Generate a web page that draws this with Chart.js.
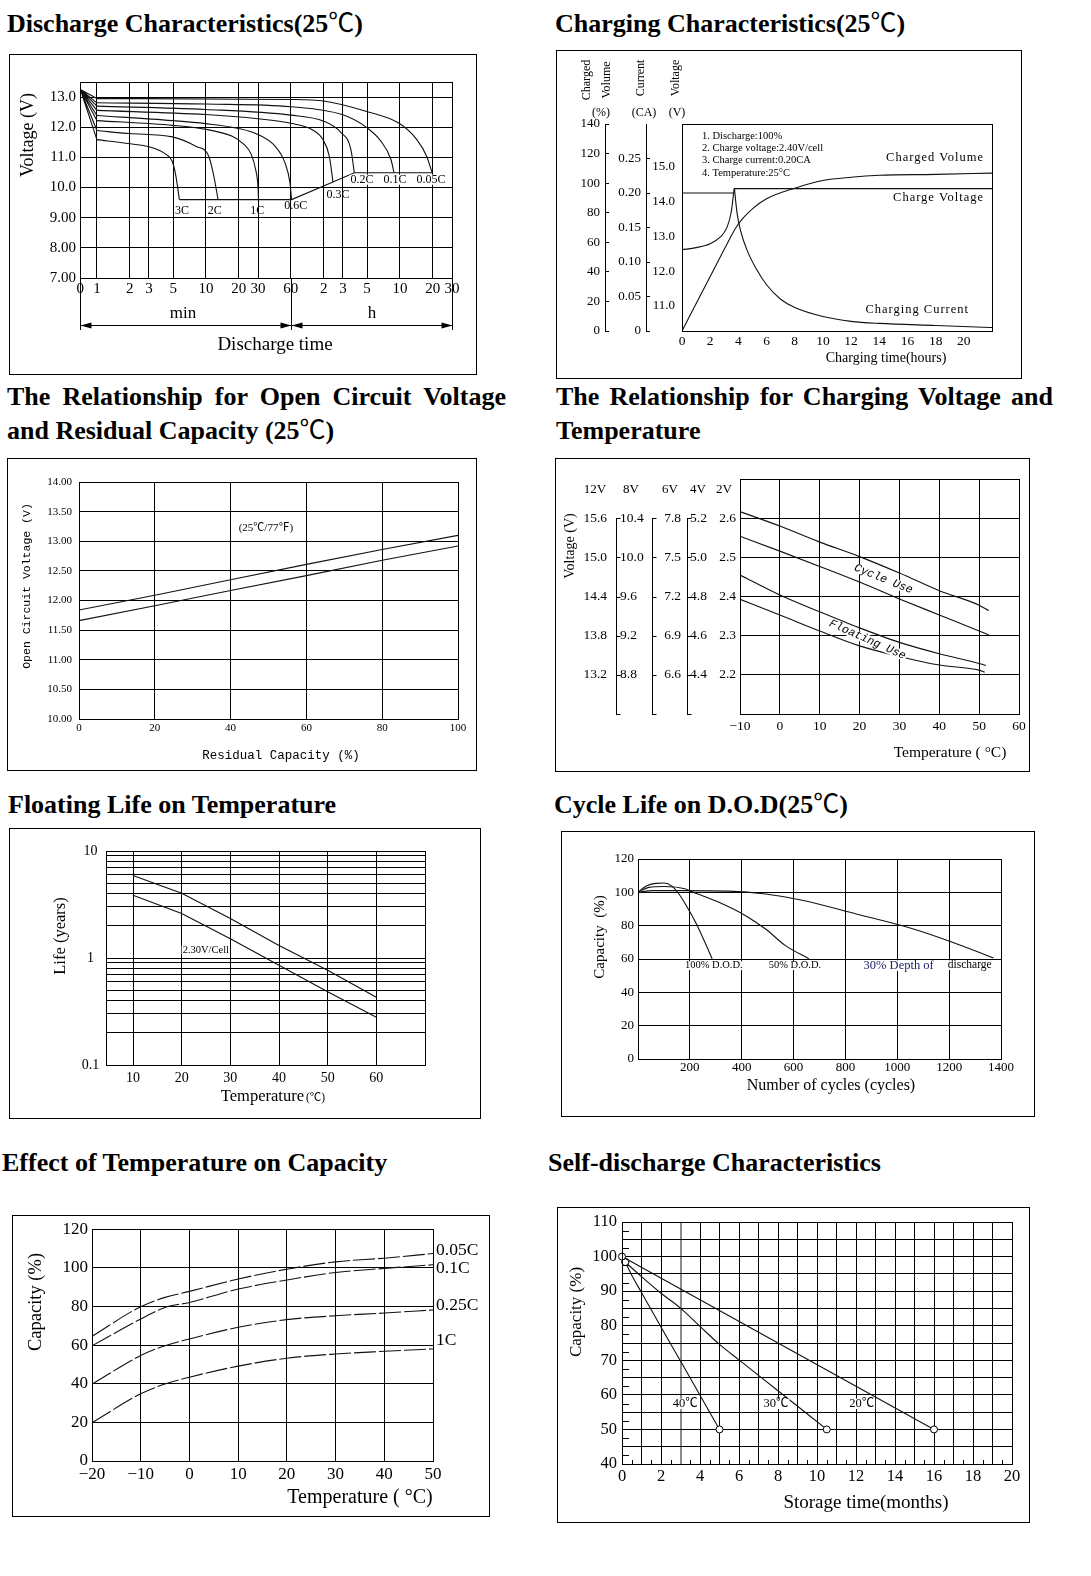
<!DOCTYPE html>
<html>
<head>
<meta charset="utf-8">
<title>Battery characteristics</title>
<script src="https://cdn.jsdelivr.net/npm/chart.js@4.4.1/dist/chart.umd.min.js"></script>
<style>
  html, body { margin: 0; padding: 0; background: #fff; }
  body { position: relative; width: 1091px; height: 1576px; overflow: hidden;
         font-family: 'Liberation Serif', 'Noto Sans CJK SC', serif; color: #000; }
  .ttl { position: absolute; font-weight: bold; font-size: 26px; line-height: 26px; white-space: nowrap; }
  .ttl .deg { font-weight: normal; }
  .just { text-align: justify; text-align-last: justify; white-space: normal; }
  .pane { position: absolute; }
  .pane canvas { display: block; }
</style>
</head>
<body>
<div class="ttl" style="left:7px;top:11px">Discharge Characteristics(25<span class="deg">℃</span>)</div>
<div class="ttl" style="left:555px;top:11px">Charging Characteristics(25<span class="deg">℃</span>)</div>
<div class="ttl just" style="left:7px;top:384px;width:499px">The Relationship for Open Circuit Voltage</div>
<div class="ttl" style="left:7px;top:418px">and Residual Capacity (25<span class="deg">℃</span>)</div>
<div class="ttl just" style="left:556px;top:384px;width:497px">The Relationship for Charging Voltage and</div>
<div class="ttl" style="left:556px;top:418px">Temperature</div>
<div class="ttl" style="left:8px;top:792px">Floating Life on Temperature</div>
<div class="ttl" style="left:554px;top:792px">Cycle Life on D.O.D(25<span class="deg">℃</span>)</div>
<div class="ttl" style="left:2px;top:1150px">Effect of Temperature on Capacity</div>
<div class="ttl" style="left:548px;top:1150px">Self-discharge Characteristics</div>

<div class="pane" id="p1"><canvas id="c1"></canvas></div>
<div class="pane" id="p2"><canvas id="c2"></canvas></div>
<div class="pane" id="p3"><canvas id="c3"></canvas></div>
<div class="pane" id="p4"><canvas id="c4"></canvas></div>
<div class="pane" id="p5"><canvas id="c5"></canvas></div>
<div class="pane" id="p6"><canvas id="c6"></canvas></div>
<div class="pane" id="p7"><canvas id="c7"></canvas></div>
<div class="pane" id="p8"><canvas id="c8"></canvas></div>

<script>
const SERIF = "'Liberation Serif', 'Noto Sans CJK SC', serif";
const MONO = "'Liberation Mono', 'DejaVu Sans Mono', monospace";

// ---- Discharge characteristics (time in minutes, voltage in V) ----
const dcTimeTicks = [0, 1, 2, 3, 5, 10, 20, 30, 60, 120, 180, 300, 600, 1200, 1800];
const dcTimeLabels = ['0', '1', '2', '3', '5', '10', '20', '30', '60', '2', '3', '5', '10', '20', '30'];
const dcSpans = [0, 60, 1800]; // min | h
const dcVoltTicks = [7, 8, 9, 10, 11, 12, 13];
const dcStartVolt = 13.25;
const dc3C = [[1, 11.59], [2, 11.45], [3, 11.35], [4.3, 11.1], [4.9, 10.87], [5.3, 10.38], [5.7, 9.6]];
const dc2C = [[1, 11.89], [2, 11.79], [4.9, 11.68], [8.06, 11.37], [10.6, 11.04], [11.8, 10.38], [12.9, 9.6]];
const dc1C = [[1, 12.22], [5, 12.06], [10, 11.93], [17.4, 11.7], [22, 11.45], [26, 11.1], [28.5, 10.6], [30, 10.0], [30.3, 9.6]];
const dc06C = [[1, 12.39], [4.9, 12.22], [9.9, 12.12], [19.8, 11.96], [29.9, 11.76], [43, 11.37], [53, 10.82], [58.9, 10.15], [60.9, 9.6]];
const dc03C = [[1, 12.56], [9.9, 12.42], [29.9, 12.28], [60, 12.13], [92.5, 11.93], [118, 11.59], [135, 11.04], [146, 10.18]];
const dc02C = [[1, 12.7], [9.9, 12.59], [60, 12.4], [120, 12.2], [173, 11.82], [213, 11.26], [229, 10.49]];
const dc01C = [[1, 12.81], [10, 12.77], [60, 12.68], [177, 12.42], [292, 12.01], [401, 11.54], [496, 10.93], [530, 10.49]];
const dc005C = [[1, 12.95], [60, 12.92], [120, 12.87], [292, 12.53], [589, 12.13], [857, 11.59], [1054, 11.04], [1183, 10.49]];
const dcCutoff = [[5.7, 9.6], [60.9, 9.6], [146, 10.18], [229, 10.49], [1183, 10.49]];

// ---- Charging characteristics (hours) ----
const chTimeTicks = [0, 2, 4, 6, 8, 10, 12, 14, 16, 18, 20];
const chVolumeTicks = [0, 20, 40, 60, 80, 100, 120, 140];
const chCurrentTicks = [0, 0.05, 0.1, 0.15, 0.2, 0.25];
const chVoltTicks = [11, 12, 13, 14, 15];
const chVoltRise = [[0, 12.62], [1, 12.68], [2, 12.79], [2.7, 12.98], [3.2, 13.27], [3.5, 13.72], [3.7, 14.38]];
const chVoltHold = [[3.7, 14.38], [22, 14.38]];
const chCurrentHold = [[0, 0.2], [3.7, 0.2]];
const chCurrentDecay = [[3.72, 0.207], [3.9, 0.172], [4.15, 0.146], [4.6, 0.118], [5.3, 0.089], [6, 0.067], [7, 0.046],
  [8, 0.034], [10, 0.021], [12, 0.014], [14, 0.011], [18, 0.008], [22, 0.005]];
const chVolume = [[0, 0], [2, 36.8], [3.4, 62.5], [3.8, 69.5], [4.3, 76], [5, 82.6], [6, 89.4], [8, 96.6], [10, 101.8],
  [12, 104], [14, 105.3], [18, 105.9], [22, 106.8]];

// ---- Open circuit voltage vs residual capacity ----
const ocvCapTicks = [0, 20, 40, 60, 80, 100];
const ocvVoltTicks = [10, 10.5, 11, 11.5, 12, 12.5, 13, 13.5, 14];
const ocvCap = [0, 20, 40, 60, 80, 100];
const ocvUpper = [11.84, 12.09, 12.35, 12.61, 12.86, 13.1];
const ocvLower = [11.66, 11.91, 12.17, 12.42, 12.68, 12.92];

// ---- Charging voltage vs temperature (per 2V cell) ----
const cvTempTicks = [-10, 0, 10, 20, 30, 40, 50, 60];
const cv2V = [2.2, 2.3, 2.4, 2.5, 2.6];
const cv4V = [4.4, 4.6, 4.8, 5.0, 5.2];
const cv6V = [6.6, 6.9, 7.2, 7.5, 7.8];
const cv8V = [8.8, 9.2, 9.6, 10.0, 10.4];
const cv12V = [13.2, 13.8, 14.4, 15.0, 15.6];
const cvCellRange = [2.1, 2.7];
const cvCycleHigh = [[-10, 2.617], [0, 2.58], [10, 2.539], [20, 2.502], [30, 2.46], [40, 2.415], [50, 2.378], [52.4, 2.364]];
const cvCycleLow = [[-10, 2.554], [0, 2.516], [10, 2.477], [20, 2.437], [30, 2.394], [40, 2.353], [50, 2.312], [52.4, 2.302]];
const cvFloatHigh = [[-10, 2.455], [0, 2.404], [10, 2.361], [20, 2.32], [30, 2.283], [40, 2.254], [50, 2.229], [51.7, 2.224]];
const cvFloatLow = [[-10, 2.393], [0, 2.353], [10, 2.312], [20, 2.274], [30, 2.247], [40, 2.225], [50, 2.212], [51.4, 2.207]];

// ---- Floating life vs temperature ----
const flTempTicks = [10, 20, 30, 40, 50, 60];
const flLifeTicks = [0.1, 0.2, 0.3, 0.4, 0.5, 0.6, 0.7, 0.8, 0.9, 1, 2, 3, 4, 5, 6, 7, 8, 9, 10];
const flLifeLabelled = [0.1, 1, 10];
const flUpper = [[10, 5.9], [20, 4.03], [30, 2.34], [40, 1.31], [50, 0.77], [60, 0.43]];
const flLower = [[10, 3.85], [20, 2.61], [30, 1.51], [40, 0.855], [50, 0.484], [60, 0.28]];

// ---- Cycle life vs depth of discharge ----
const cyCycleTicks = [0, 200, 400, 600, 800, 1000, 1200, 1400];
const cyCapTicks = [0, 20, 40, 60, 80, 100, 120];
const cyDod100 = [[0, 100], [30, 103.6], [68, 105.4], [100, 105.6], [132, 103.6], [158, 99], [190, 91], [222, 82], [254, 71.4], [286, 60.2]];
const cyDod50 = [[0, 100.3], [42, 103], [100, 103.5], [184, 102], [209, 100.3], [312, 94], [415, 86], [492, 78], [569, 68], [659, 60.2]];
const cyDod30 = [[0, 100], [55, 101], [184, 101], [350, 100.7], [492, 99], [633, 95.3], [845, 86.9], [1056, 78.3], [1210, 70.2], [1371, 60.6]];

// ---- Effect of temperature on capacity ----
const tcTempTicks = [-20, -10, 0, 10, 20, 30, 40, 50];
const tcCapTicks = [0, 20, 40, 60, 80, 100, 120];
const tcTemps = [-20, -10, -5, 0, 10, 20, 30, 40, 50];
const tc005C = [64.5, 79.9, 84.7, 87.8, 94.2, 99.3, 103.1, 105, 107.4];
const tc01C = [59.6, 73.5, 79.5, 82.1, 89, 93.7, 97.6, 99.7, 101.6];
const tc025C = [39.8, 54.6, 59.7, 63.2, 69.2, 73.2, 75.2, 76.6, 78.2];
const tc1C = [19.8, 34.8, 39.9, 43.4, 49.1, 53.2, 55.4, 56.8, 58];

// ---- Self-discharge ----
const sdMonthTicks = [0, 1, 2, 3, 4, 5, 6, 7, 8, 9, 10, 11, 12, 13, 14, 15, 16, 17, 18, 19, 20];
const sdCapTicks = [40, 45, 50, 55, 60, 65, 70, 75, 80, 85, 90, 95, 100, 105, 110];
const sdMarkMonth = 3;
const sd20 = [[0, 100], [16, 50]];
const sd30 = [[0.17, 98.4], [1, 94.2], [2, 89.4], [3, 85.1], [4, 79.8], [5, 74.6], [6, 70.1], [8, 61.2], [10.5, 50]];
const sd40 = [[0.17, 98.4], [0.5, 94.6], [1, 89.6], [1.5, 84.6], [2, 79.6], [3, 69.8], [4, 59.9], [5, 50]];

Chart.defaults.font.family = SERIF;
Chart.defaults.color = '#000';

const X0 = 0.705; // where "0" sits on the log time axis
const tx = m => (m <= 0 ? X0 : m);
const minus = v => (v < 0 ? '\u2212' + (-v) : String(v));
const zip = (xs, ys) => xs.map((x, i) => [x, ys[i]]);

function pts(a) { return a.map(p => ({ x: p[0], y: p[1] })); }
function line(a, o) {
  return Object.assign({ data: pts(a), borderColor: '#111', borderWidth: 1.1, pointRadius: 0, fill: false, tension: 0 }, o || {});
}
const smooth = { cubicInterpolationMode: 'monotone' };
function fixed(list) { return s => { s.ticks = list.map(v => ({ value: v })); }; }
function tf(size, family) { return { family: family || SERIF, size: size }; }
function grid() { return { color: '#000', lineWidth: 1, drawTicks: false }; }
function nogrid() { return { display: false, drawTicks: false }; }
function bracket() { return { display: true, drawOnChartArea: false, drawTicks: true, tickLength: -4, color: '#000' }; }
function border() { return { color: '#000', width: 1 }; }

function drawText(chart, ctx, t, ox, oy) {
  let x, y;
  if (t.d) {
    x = chart.scales[t.xs || 'x'].getPixelForValue(t.d[0]);
    y = chart.scales[t.ys || 'y'].getPixelForValue(t.d[1]);
  } else {
    x = t.x - ox;
    y = t.y - oy;
  }
  ctx.save();
  ctx.translate(x, y);
  if (t.rot) ctx.rotate(t.rot * Math.PI / 180);
  ctx.font = (t.st ? t.st + ' ' : '') + t.s + 'px ' + (t.f || SERIF);
  if ('letterSpacing' in ctx) ctx.letterSpacing = (t.ls || 0) + 'px';
  ctx.textAlign = t.al || 'left';
  ctx.textBaseline = 'middle';
  if (t.bg) {
    const w = ctx.measureText(t.t).width;
    const x0 = t.al === 'center' ? -w / 2 : t.al === 'right' ? -w : 0;
    ctx.fillStyle = '#fff';
    ctx.fillRect(x0 - 1, -t.s * 0.42, w + 2, t.s * 0.84);
  }
  ctx.fillStyle = t.c || '#000';
  ctx.fillText(t.t, 0, 0);
  ctx.restore();
}

function decor(box, texts, extra) {
  return {
    id: 'decor',
    afterDraw(chart) {
      const ctx = chart.ctx, a = chart.chartArea;
      ctx.save();
      ctx.strokeStyle = '#000';
      ctx.fillStyle = '#000';
      ctx.lineWidth = 1;
      ctx.strokeRect(0.5, 0.5, chart.width - 1, chart.height - 1);
      ctx.strokeRect(Math.round(a.left) + 0.5, Math.round(a.top) + 0.5,
        Math.round(a.right) - Math.round(a.left), Math.round(a.bottom) - Math.round(a.top));
      if (extra) extra(chart, ctx);
      ctx.restore();
      texts.forEach(t => drawText(chart, ctx, t, box[0], box[1]));
    }
  };
}

// box / plot are page rectangles [left, top, right, bottom]
function makeChart(n, box, plot, cfg) {
  const pane = document.getElementById('p' + n);
  const w = box[2] - box[0], h = box[3] - box[1];
  Object.assign(pane.style, { left: box[0] + 'px', top: box[1] + 'px', width: w + 'px', height: h + 'px' });
  const canvas = document.getElementById('c' + n);
  canvas.width = w;
  canvas.height = h;
  const xH = box[3] - plot[3];
  const widths = cfg.widths || { y: plot[0] - box[0] };
  for (const [k, s] of Object.entries(cfg.scales)) {
    if (s.position === 'bottom') s.afterFit = sc => { sc.height = xH; };
    else s.afterFit = sc => { sc.width = widths[k]; };
  }
  return new Chart(canvas, {
    type: 'line',
    data: { datasets: cfg.datasets },
    options: {
      responsive: false,
      animation: false,
      layout: { padding: { left: 0, top: plot[1] - box[1], right: box[2] - plot[2], bottom: 0 } },
      plugins: { legend: { display: false }, tooltip: { enabled: false } },
      scales: cfg.scales
    },
    plugins: [decor(box, cfg.texts || [], cfg.extra)]
  });
}

function arrowHead(ctx, x, y, dir) {
  ctx.beginPath();
  ctx.moveTo(x, y);
  ctx.lineTo(x - dir * 11, y - 3);
  ctx.lineTo(x - dir * 11, y + 3);
  ctx.closePath();
  ctx.fill();
}

// 1. Discharge characteristics
const dcCurves = [dc3C, dc2C, dc1C, dc06C, dc03C, dc02C, dc01C, dc005C];
const dcFan = [];
dcCurves.forEach(c => { dcFan.push([tx(0), dcStartVolt], c[0], [c[0][0], null]); });
makeChart(1, [9, 54, 477, 375], [80, 82, 452, 278], {
  scales: {
    x: { type: 'logarithmic', position: 'bottom', min: X0, max: 1800, afterBuildTicks: fixed(dcTimeTicks.map(tx)),
      ticks: { autoSkip: false, maxRotation: 0, padding: 2, font: tf(15), callback: (v, i) => dcTimeLabels[i] },
      grid: grid(), border: border() },
    y: { type: 'linear', position: 'left', min: 7, max: 13.5, afterBuildTicks: fixed(dcVoltTicks),
      ticks: { padding: 4, font: tf(15), callback: v => v.toPrecision(3) }, grid: grid(), border: border() }
  },
  datasets: [line(dcFan)].concat(dcCurves.map(c => line(c, smooth)), [line(dcCutoff)]),
  texts: [
    { t: 'Voltage (V)', x: 28, y: 135, s: 18, rot: -90, al: 'center' },
    { t: '3C', d: [5.19, 9.23], s: 12 },
    { t: '2C', d: [10.4, 9.23], s: 12 },
    { t: '1C', d: [25.5, 9.23], s: 12 },
    { t: '0.6C', d: [52.3, 9.38], s: 12 },
    { t: '0.3C', d: [127, 9.77], s: 12 },
    { t: '0.2C', d: [211, 10.26], s: 12, bg: 1 },
    { t: '0.1C', d: [424, 10.26], s: 12, bg: 1 },
    { t: '0.05C', d: [851, 10.26], s: 12, bg: 1 },
    { t: 'min', x: 183, y: 314, s: 17, al: 'center' },
    { t: 'h', x: 372, y: 314, s: 17, al: 'center' },
    { t: 'Discharge time', x: 275, y: 345, s: 19, al: 'center' }
  ],
  extra: (chart, ctx) => {
    const xs = chart.scales.x, a = chart.chartArea;
    const px = dcSpans.map(m => Math.round(xs.getPixelForValue(tx(m))) + 0.5);
    const yb = a.bottom + 52, ya = Math.round(a.bottom + 47) + 0.5;
    ctx.beginPath();
    px.forEach(p => { ctx.moveTo(p, a.bottom); ctx.lineTo(p, yb); });
    ctx.moveTo(px[0], ya);
    ctx.lineTo(px[2], ya);
    ctx.stroke();
    arrowHead(ctx, px[0], ya, -1);
    arrowHead(ctx, px[1], ya, 1);
    arrowHead(ctx, px[1], ya, -1);
    arrowHead(ctx, px[2], ya, 1);
  }
});

// 2. Charging characteristics
makeChart(2, [556, 50, 1022, 379], [682, 124, 992, 331], {
  widths: { yV: 36, yC: 41, yP: 49 },
  scales: {
    x: { type: 'linear', position: 'bottom', min: 0, max: 22, afterBuildTicks: fixed(chTimeTicks),
      ticks: { autoSkip: false, maxRotation: 0, padding: 2, font: tf(13.5) }, grid: nogrid(), border: border() },
    yV: { type: 'linear', position: 'left', weight: 0, min: 10.28, max: 16.24, afterBuildTicks: fixed(chVoltTicks),
      ticks: { padding: 7, font: tf(13), callback: v => v.toFixed(1) }, grid: nogrid(), border: border() },
    yC: { type: 'linear', position: 'left', weight: 1, min: 0, max: 0.3, afterBuildTicks: fixed(chCurrentTicks),
      ticks: { padding: 9, font: tf(13), callback: v => (v === 0 ? '0' : v.toFixed(2)) }, grid: bracket(), border: border() },
    yP: { type: 'linear', position: 'left', weight: 2, min: 0, max: 140, afterBuildTicks: fixed(chVolumeTicks),
      ticks: { padding: 9, font: tf(13) }, grid: bracket(), border: border() }
  },
  datasets: [
    line(chVoltRise, Object.assign({ yAxisID: 'yV' }, smooth)),
    line(chVoltHold, { yAxisID: 'yV' }),
    line(chCurrentHold, { yAxisID: 'yC' }),
    line(chCurrentDecay, Object.assign({ yAxisID: 'yC' }, smooth)),
    line(chVolume, Object.assign({ yAxisID: 'yP' }, smooth))
  ],
  texts: [
    { t: 'Charged', x: 587, y: 80, s: 12, rot: -90, al: 'center' },
    { t: 'Volume', x: 607, y: 80, s: 12, rot: -90, al: 'center' },
    { t: 'Current', x: 641, y: 78, s: 12, rot: -90, al: 'center' },
    { t: 'Voltage', x: 676, y: 78, s: 12, rot: -90, al: 'center' },
    { t: '(%)', x: 601, y: 113, s: 12, al: 'center' },
    { t: '(CA)', x: 644, y: 113, s: 12, al: 'center' },
    { t: '(V)', x: 677, y: 113, s: 12, al: 'center' },
    { t: '1. Discharge:100%', x: 702, y: 136, s: 10.5 },
    { t: '2. Charge voltage:2.40V/cell', x: 702, y: 148.3, s: 10.5 },
    { t: '3. Charge current:0.20CA', x: 702, y: 160.6, s: 10.5 },
    { t: '4. Temperature:25°C', x: 702, y: 172.9, s: 10.5 },
    { t: 'Charged Volume', x: 984, y: 158, s: 12.5, al: 'right', ls: 1 },
    { t: 'Charge Voltage', x: 984, y: 198, s: 12.5, al: 'right', ls: 1 },
    { t: 'Charging Current', x: 969, y: 310, s: 12.5, al: 'right', ls: 1 },
    { t: 'Charging time(hours)', x: 886, y: 358, s: 14, al: 'center' }
  ]
});

// 3. Open circuit voltage vs residual capacity
makeChart(3, [7, 458, 477, 771], [79, 482, 458, 719], {
  scales: {
    x: { type: 'linear', position: 'bottom', min: 0, max: 100, afterBuildTicks: fixed(ocvCapTicks),
      ticks: { autoSkip: false, maxRotation: 0, padding: 3, font: tf(11) }, grid: grid(), border: border() },
    y: { type: 'linear', position: 'left', min: 10, max: 14, afterBuildTicks: fixed(ocvVoltTicks),
      ticks: { padding: 7, font: tf(11), callback: v => v.toFixed(2) }, grid: grid(), border: border() }
  },
  datasets: [line(zip(ocvCap, ocvUpper)), line(zip(ocvCap, ocvLower))],
  texts: [
    { t: 'Open Circuit Voltage (V)', x: 27, y: 586, s: 11.5, f: MONO, rot: -90, al: 'center' },
    { t: 'Residual Capacity (%)', x: 281, y: 756, s: 12.5, f: MONO, al: 'center' },
    { t: '(25℃/77℉)', d: [49.3, 13.22], s: 11, al: 'center' }
  ]
});

// 4. Charging voltage vs temperature
// label columns for 12V / 8V / 6V / 4V batteries share the 2V cell scale
function cvColumn(k, list, weight, pad, align) {
  return {
    type: 'linear', position: 'left', weight: weight, min: cvCellRange[0] * k, max: cvCellRange[1] * k,
    afterBuildTicks: fixed(list),
    ticks: { padding: pad, crossAlign: align, font: tf(13.5), callback: v => v.toFixed(1) },
    grid: nogrid(), border: { display: false }
  };
}
makeChart(4, [555, 458, 1030, 772], [740, 474, 1019, 714], {
  widths: { y2: 26, y4: 24, y6: 38, y8: 32, y12: 65 },
  scales: {
    x: { type: 'linear', position: 'bottom', min: -10, max: 60, afterBuildTicks: fixed(cvTempTicks),
      ticks: { autoSkip: false, maxRotation: 0, padding: 4, font: tf(13.5), callback: minus }, grid: grid(), border: border() },
    y2: { type: 'linear', position: 'left', weight: 0, min: cvCellRange[0], max: cvCellRange[1],
      afterBuildTicks: fixed([cvCellRange[0]].concat(cv2V, [cvCellRange[1]])),
      ticks: { padding: 4, font: tf(13.5), callback: v => (v < cv2V[0] - 1e-9 || v > cv2V[cv2V.length - 1] + 1e-9 ? '' : v.toFixed(1)) },
      grid: grid(), border: border() },
    y4: cvColumn(2, cv4V, 1, 0, 'far'),
    y6: cvColumn(3, cv6V, 2, 9, 'near'),
    y8: cvColumn(4, cv8V, 3, 0, 'far'),
    y12: cvColumn(6, cv12V, 4, 13, 'near')
  },
  datasets: [
    line(cvCycleHigh, Object.assign({ yAxisID: 'y2' }, smooth)),
    line(cvCycleLow, Object.assign({ yAxisID: 'y2' }, smooth)),
    line(cvFloatHigh, Object.assign({ yAxisID: 'y2' }, smooth)),
    line(cvFloatLow, Object.assign({ yAxisID: 'y2' }, smooth))
  ],
  texts: [
    { t: '12V', x: 595, y: 490, s: 13, al: 'center' },
    { t: '8V', x: 631, y: 490, s: 13, al: 'center' },
    { t: '6V', x: 670, y: 490, s: 13, al: 'center' },
    { t: '4V', x: 698, y: 490, s: 13, al: 'center' },
    { t: '2V', x: 724, y: 490, s: 13, al: 'center' },
    { t: 'Voltage (V)', x: 570, y: 546, s: 14, rot: -90, al: 'center' },
    { t: 'Cycle Use', d: [26, 2.445], ys: 'y2', s: 11.5, f: MONO, st: 'italic', rot: 22, al: 'center', bg: 1 },
    { t: 'Floating Use', d: [22, 2.29], ys: 'y2', s: 11.5, f: MONO, st: 'italic', rot: 24, al: 'center', bg: 1 },
    { t: 'Temperature ( °C)', x: 950, y: 753, s: 15.5, al: 'center' }
  ],
  extra: (chart, ctx) => {
    // bracket lines between the label columns, ticked at every cell level
    const a = chart.chartArea, y2 = chart.scales.y2, sc = chart.scales;
    const levels = [cvCellRange[0]].concat(cv2V);
    const xs = [sc.y8.left - 4, sc.y6.left, sc.y4.left - 3];
    ctx.beginPath();
    xs.forEach(x0 => {
      const x = Math.round(x0) + 0.5;
      ctx.moveTo(x, Math.round(y2.getPixelForValue(cv2V[cv2V.length - 1])));
      ctx.lineTo(x, Math.round(a.bottom) + 1);
      levels.forEach(v => {
        const y = Math.round(y2.getPixelForValue(v)) + 0.5;
        ctx.moveTo(x, y);
        ctx.lineTo(x + 4, y);
      });
    });
    ctx.stroke();
  }
});

// 5. Floating life vs temperature
makeChart(5, [9, 828, 481, 1119], [106, 851, 425, 1065], {
  scales: {
    x: { type: 'linear', position: 'bottom', min: 4.45, max: 70, afterBuildTicks: fixed(flTempTicks),
      ticks: { autoSkip: false, maxRotation: 0, padding: 4.5, font: tf(14) }, grid: grid(), border: border() },
    y: { type: 'logarithmic', position: 'left', min: 0.1, max: 10, afterBuildTicks: fixed(flLifeTicks),
      ticks: { autoSkip: false, crossAlign: 'center', padding: 6.75, font: tf(14), callback: v => (flLifeLabelled.includes(v) ? String(v) : '') },
      grid: grid(), border: border() }
  },
  datasets: [line(flUpper), line(flLower)],
  texts: [
    { t: 'Life (years)', x: 61, y: 936, s: 16.5, rot: -90, al: 'center' },
    { t: 'Temperature', x: 304, y: 1097, s: 16.5, al: 'right' },
    { t: '(℃)', x: 306, y: 1098, s: 11.5 },
    { t: '2.30V/Cell', d: [20.2, 1.19], s: 10.5, bg: 1 }
  ]
});

// 6. Cycle life vs D.O.D
makeChart(6, [561, 831, 1035, 1117], [638, 859, 1001, 1059], {
  scales: {
    x: { type: 'linear', position: 'bottom', min: 0, max: 1400, afterBuildTicks: fixed(cyCycleTicks),
      ticks: { autoSkip: false, maxRotation: 0, padding: 0.5, font: tf(13), callback: v => (v === 0 ? '' : String(v)) },
      grid: grid(), border: border() },
    y: { type: 'linear', position: 'left', min: 0, max: 120, afterBuildTicks: fixed(cyCapTicks),
      ticks: { padding: 4, font: tf(13) }, grid: grid(), border: border() }
  },
  datasets: [line(cyDod100, smooth), line(cyDod50, smooth), line(cyDod30, smooth)],
  texts: [
    { t: 'Capacity  (%)', x: 600, y: 937, s: 15, rot: -90, al: 'center' },
    { t: 'Number of cycles (cycles)', x: 831, y: 1086, s: 16, al: 'center' },
    { t: '100% D.O.D.', d: [181, 56], s: 10.5, bg: 1 },
    { t: '50% D.O.D.', d: [504, 56], s: 10.5, bg: 1 },
    { t: '30% Depth of', d: [870, 56], s: 12.5, c: '#1a1a66', bg: 1 },
    { t: 'discharge', d: [1195, 56.3], s: 11.5, bg: 1 }
  ]
});

// 7. Effect of temperature on capacity
const dashed = { borderDash: [22, 3], cubicInterpolationMode: 'monotone' };
makeChart(7, [12, 1215, 490, 1517], [92, 1229, 433, 1461], {
  scales: {
    x: { type: 'linear', position: 'bottom', min: -20, max: 50, afterBuildTicks: fixed(tcTempTicks),
      ticks: { autoSkip: false, maxRotation: 0, padding: 3, font: tf(17), callback: minus }, grid: grid(), border: border() },
    y: { type: 'linear', position: 'left', min: 0, max: 120, afterBuildTicks: fixed(tcCapTicks),
      ticks: { padding: 4, font: tf(17) }, grid: grid(), border: border() }
  },
  datasets: [tc005C, tc01C, tc025C, tc1C].map(c => line(zip(tcTemps, c), dashed)),
  texts: [
    { t: 'Capacity (%)', x: 36, y: 1302, s: 18.5, rot: -90, al: 'center' },
    { t: 'Temperature ( °C)', x: 360, y: 1498, s: 20, al: 'center' },
    { t: '0.05C', x: 436, y: 1250, s: 17.5 },
    { t: '0.1C', x: 436, y: 1268, s: 17.5 },
    { t: '0.25C', x: 436, y: 1305, s: 17.5 },
    { t: '1C', x: 436, y: 1340, s: 17.5 }
  ]
});

// 8. Self-discharge characteristics
const ends = n => c => (c.dataIndex === 0 || c.dataIndex === n - 1 ? 3.5 : 0);
const marked = a => ({ pointRadius: ends(a.length), pointBackgroundColor: '#fff', pointBorderColor: '#000', pointBorderWidth: 1, clip: false });
makeChart(8, [557, 1207, 1030, 1523], [622, 1222, 1012, 1464], {
  scales: {
    x: { type: 'linear', position: 'bottom', min: 0, max: 20, afterBuildTicks: fixed(sdMonthTicks),
      ticks: { autoSkip: false, maxRotation: 0, padding: 3, font: tf(16.5), callback: v => (v % 2 === 0 ? String(v) : '') },
      grid: { drawTicks: false, color: c => (c.tick && c.tick.value === sdMarkMonth ? '#8c8c8c' : '#000'),
        lineWidth: c => (c.tick && c.tick.value === sdMarkMonth ? 2 : 1) },
      border: border() },
    y: { type: 'linear', position: 'left', min: 40, max: 110, afterBuildTicks: fixed(sdCapTicks),
      ticks: { autoSkip: false, padding: 5, font: tf(16.5), callback: v => (v % 10 === 0 ? String(v) : '') },
      grid: grid(), border: border() }
  },
  datasets: [
    line(sd20, marked(sd20)),
    line(sd30, Object.assign(marked(sd30), smooth)),
    line(sd40, Object.assign(marked(sd40), smooth))
  ],
  texts: [
    { t: 'Capacity (%)', x: 577, y: 1312, s: 17, rot: -90, al: 'center' },
    { t: 'Storage time(months)', x: 866, y: 1503, s: 19, al: 'center' },
    { t: '40℃', d: [2.6, 57.4], s: 12.5, bg: 1 },
    { t: '30℃', d: [7.25, 57.4], s: 12.5, bg: 1 },
    { t: '20℃', d: [11.65, 57.4], s: 12.5, bg: 1 }
  ],
  extra: (chart, ctx) => {
    const xs = chart.scales.x, ys = chart.scales.y, a = chart.chartArea;
    ctx.beginPath();
    for (let v = 42.5; v < 110; v += 5) {
      const y = Math.round(ys.getPixelForValue(v)) + 0.5;
      ctx.moveTo(a.left, y);
      ctx.lineTo(a.left + 7, y);
    }
    for (let m = 0.5; m < 20; m += 1) {
      const x = Math.round(xs.getPixelForValue(m)) + 0.5;
      ctx.moveTo(x, a.bottom);
      ctx.lineTo(x, a.bottom - 4);
    }
    ctx.stroke();
  }
});
</script>
</body>
</html>
